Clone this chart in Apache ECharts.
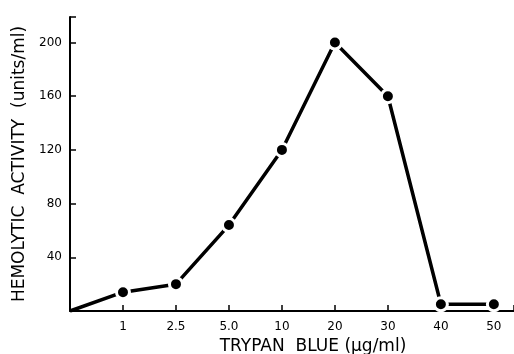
<!DOCTYPE html>
<html>
<head>
<meta charset="utf-8">
<script src="https://cdn.jsdelivr.net/npm/echarts@6/dist/echarts.min.js"></script>
<style>
  html, body { margin: 0; padding: 0; background: #fff; }
  #chart { width: 514px; height: 354px; }
</style>
</head>
<body>
<div id="chart"></div>
<script>
// tick labels along the x axis (index 0 is the origin, unlabeled)
const xLabels = ['', '1', '2.5', '5.0', '10', '20', '30', '40', '50'];
// hemolytic activity (units/ml) at each concentration
const activity = [0, 14, 20, 64, 120, 200, 160, 5, 5];
const yTicks = [40, 80, 120, 160, 200];

const chart = echarts.init(document.getElementById('chart'), null, { renderer: 'canvas' });

const data = activity.map((v, i) => {
  const p = { value: [i, v] };
  if (i === 0) p.symbol = 'none';
  return p;
});

const font = 'DejaVu Sans';

chart.setOption({
  animation: false,
  grid: { left: 70, right: 0, top: 17, bottom: 43, outerBoundsMode: 'none', containLabel: false },
  xAxis: {
    type: 'value',
    min: 0,
    max: 8.38,
    interval: 1,
    name: 'TRYPAN  BLUE (\u03bcg/ml)',
    nameLocation: 'middle',
    nameGap: 26,
    nameTextStyle: { color: '#000', fontFamily: font, fontSize: 17, padding: [0, 0, 0, 42] },
    axisLine: { lineStyle: { color: '#000', width: 2 } },
    axisTick: { inside: true, length: 6, lineStyle: { color: '#000', width: 1.5 } },
    axisLabel: {
      color: '#000', fontFamily: font, fontSize: 12, margin: 10,
      formatter: v => (Number.isInteger(v) && xLabels[v]) ? xLabels[v] : ''
    },
    splitLine: { show: false }
  },
  yAxis: {
    type: 'value',
    min: 0,
    max: 219,
    interval: 40,
    name: 'HEMOLYTIC  ACTIVITY  (units/ml)',
    nameLocation: 'middle',
    nameGap: 42,
    nameTextStyle: { color: '#000', fontFamily: font, fontSize: 17 },
    axisLine: { lineStyle: { color: '#000', width: 2 } },
    axisTick: { inside: true, length: 6, lineStyle: { color: '#000', width: 1.5 } },
    axisLabel: {
      color: '#000', fontFamily: font, fontSize: 12, margin: 8,
      formatter: v => yTicks.includes(v) ? String(v) : ''
    },
    splitLine: { show: false }
  },
  series: [{
    type: 'line',
    data: data,
    symbol: 'circle',
    symbolSize: 13,
    showAllSymbol: true,
    lineStyle: { color: '#000', width: 3.5 },
    itemStyle: { color: '#000', borderColor: '#fff', borderWidth: 3 }
  }]
});
</script>
</body>
</html>
